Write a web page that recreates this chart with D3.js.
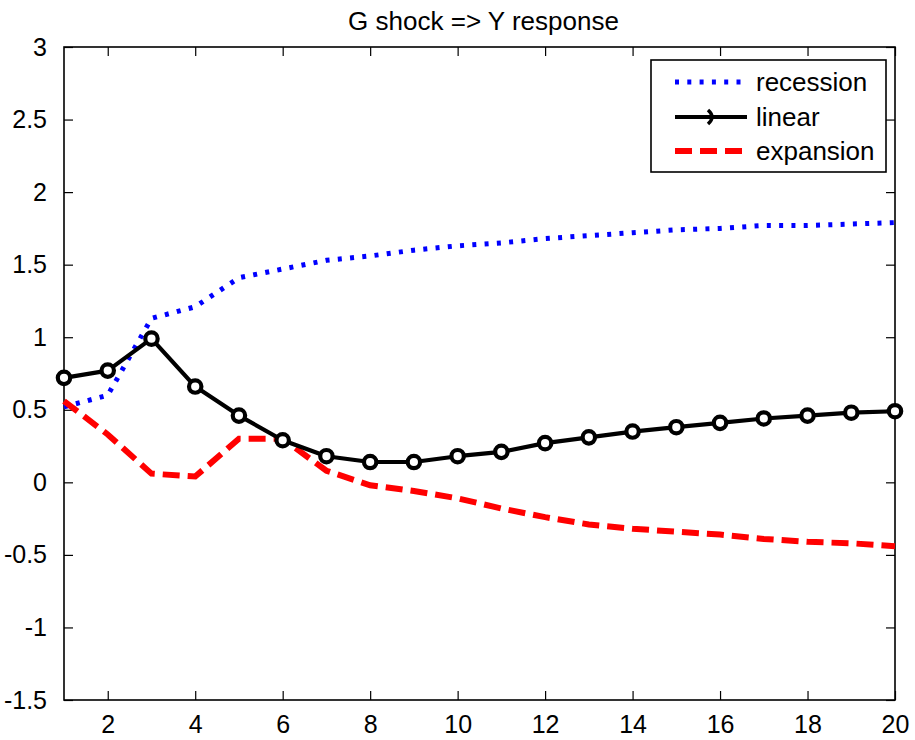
<!DOCTYPE html>
<html>
<head>
<meta charset="utf-8">
<script src="https://cdn.jsdelivr.net/npm/d3@7"></script>
<style>
  body { margin: 0; background: #fff; }
  text { font-family: "Liberation Sans", Arial, sans-serif; fill: #000; }
</style>
</head>
<body>
<script>
// horizons 1..20
var periods = d3.range(1, 21);
var recession = [0.52, 0.60, 1.13, 1.21, 1.41, 1.47, 1.53, 1.56, 1.60, 1.63, 1.65, 1.68, 1.70, 1.72, 1.74, 1.75, 1.77, 1.77, 1.78, 1.79];
var linear    = [0.72, 0.77, 0.99, 0.66, 0.46, 0.29, 0.18, 0.14, 0.14, 0.18, 0.21, 0.27, 0.31, 0.35, 0.38, 0.41, 0.44, 0.46, 0.48, 0.49];
var expansion = [0.56, 0.33, 0.06, 0.04, 0.30, 0.30, 0.08, -0.02, -0.06, -0.11, -0.18, -0.24, -0.29, -0.32, -0.34, -0.36, -0.39, -0.41, -0.42, -0.44];
var xTicks = [2, 4, 6, 8, 10, 12, 14, 16, 18, 20];
var yTicks = [-1.5, -1, -0.5, 0, 0.5, 1, 1.5, 2, 2.5, 3];
var legendNames = ["recession", "linear", "expansion"];

var W = 915, H = 740;
var pL = 64, pR = 895, pT = 47, pB = 700;

var svg = d3.select("body").append("svg")
	.attr("width", W)
	.attr("height", H);

var x = d3.scaleLinear().domain([1, 20]).range([pL, pR]);
var y = d3.scaleLinear().domain([-1.5, 3]).range([pB, pT]);

var fmt = function(d){ return String(d); };

// axes, ticks pointing inward on all four sides
var gx = svg.append("g").attr("transform", "translate(0," + pB + ")")
	.call(d3.axisBottom(x).tickValues(xTicks).tickFormat(fmt).tickSizeInner(-9).tickSizeOuter(0).tickPadding(15));
var gxt = svg.append("g").attr("transform", "translate(0," + pT + ")")
	.call(d3.axisTop(x).tickValues(xTicks).tickFormat("").tickSizeInner(-9).tickSizeOuter(0));
var gy = svg.append("g").attr("transform", "translate(" + pL + ",0)")
	.call(d3.axisLeft(y).tickValues(yTicks).tickFormat(fmt).tickSizeInner(-9).tickSizeOuter(0).tickPadding(17));
var gyr = svg.append("g").attr("transform", "translate(" + pR + ",0)")
	.call(d3.axisRight(y).tickValues(yTicks).tickFormat("").tickSizeInner(-9).tickSizeOuter(0));

svg.selectAll(".domain").remove();
svg.selectAll(".tick line").attr("stroke", "#000").attr("stroke-width", 1.2);
svg.selectAll(".tick text").style("font-size", "25px").attr("fill", "#000");
gx.selectAll(".tick text").attr("dy", "0.71em");

svg.append("rect")
	.attr("x", pL).attr("y", pT)
	.attr("width", pR - pL).attr("height", pB - pT)
	.attr("fill", "none").attr("stroke", "#000").attr("stroke-width", 1.6);

svg.append("text")
	.attr("x", (pL + pR) / 2 + 4)
	.attr("y", 30)
	.attr("text-anchor", "middle")
	.style("font-size", "26px")
	.text("G shock => Y response");

var line = d3.line()
	.x(function(d, i){ return x(periods[i]); })
	.y(function(d){ return y(d); });

svg.append("path").datum(recession)
	.attr("d", line)
	.attr("fill", "none").attr("stroke", "#0000ff")
	.attr("stroke-width", 5).attr("stroke-dasharray", "4 8.3");

svg.append("path").datum(expansion)
	.attr("d", line)
	.attr("fill", "none").attr("stroke", "#ff0000")
	.attr("stroke-width", 6).attr("stroke-dasharray", "17 8");

svg.append("path").datum(linear)
	.attr("d", line)
	.attr("fill", "none").attr("stroke", "#000")
	.attr("stroke-width", 4.2).attr("stroke-linejoin", "round");

svg.selectAll("circle.mk").data(linear)
	.enter().append("circle")
	.attr("class", "mk")
	.attr("cx", function(d, i){ return x(periods[i]); })
	.attr("cy", function(d){ return y(d); })
	.attr("r", 6.2)
	.attr("fill", "#fff").attr("stroke", "#000").attr("stroke-width", 4.2);

// legend
var lg = svg.append("g");
lg.append("rect")
	.attr("x", 651).attr("y", 60).attr("width", 235).attr("height", 112)
	.attr("fill", "#fff").attr("stroke", "#000").attr("stroke-width", 1.6);

var rowsY = [82, 117, 151];
var styles = [
	{ color: "#0000ff", w: 5, dash: "4 8.3" },
	{ color: "#000", w: 4.2, dash: null },
	{ color: "#ff0000", w: 6, dash: "17 8" }
];
lg.selectAll("line.ls").data(styles)
	.enter().append("line")
	.attr("x1", 675).attr("x2", 747)
	.attr("y1", function(d, i){ return rowsY[i]; })
	.attr("y2", function(d, i){ return rowsY[i]; })
	.attr("stroke", function(d){ return d.color; })
	.attr("stroke-width", function(d){ return d.w; })
	.attr("stroke-dasharray", function(d){ return d.dash; });

lg.append("path")
	.attr("d", "M708," + (rowsY[1] - 7) + " Q716," + rowsY[1] + " 708," + (rowsY[1] + 7))
	.attr("fill", "none").attr("stroke", "#000").attr("stroke-width", 3.5);

lg.selectAll("text.lt").data(legendNames)
	.enter().append("text")
	.attr("x", 756)
	.attr("y", function(d, i){ return rowsY[i]; })
	.attr("dy", "0.35em")
	.style("font-size", "26px")
	.text(function(d){ return d; });
</script>
</body>
</html>
